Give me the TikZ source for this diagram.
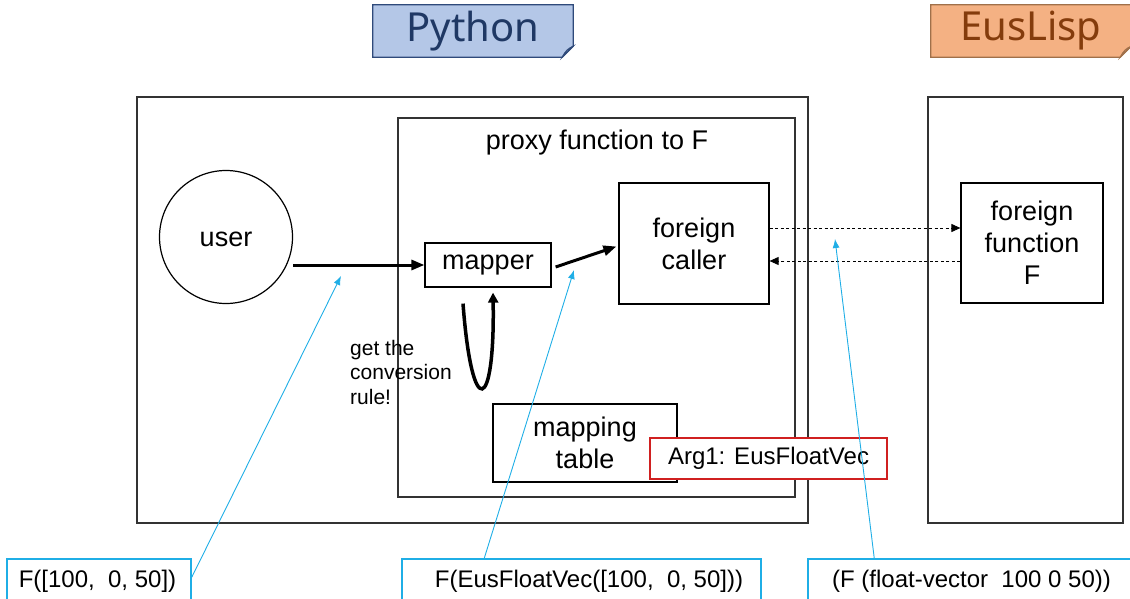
\documentclass[tikz,border=0pt]{standalone}
\usepackage{fontspec}
\setmainfont{Liberation Sans}
\newfontfamily\tagfont{Noto Sans}
\usetikzlibrary{arrows.meta,calc}

\definecolor{pyfill}{HTML}{B4C7E7}
\definecolor{pyline}{HTML}{2F4A7A}
\definecolor{pytext}{HTML}{1F3864}
\definecolor{elfill}{HTML}{F4B183}
\definecolor{elline}{HTML}{A0704A}
\definecolor{eltext}{HTML}{843C0C}
\definecolor{note}{HTML}{1FAEE6}
\definecolor{argred}{HTML}{D02020}

\tikzset{
  frame/.style={draw=black!80, line width=1.3pt, inner sep=0pt},
  blk/.style={draw=black, line width=1.2pt, inner sep=0pt, align=center,
    font=\fontsize{27}{32}\selectfont},
  tagbox/.style={inner sep=0pt, font=\tagfont\fontsize{40}{44}\selectfont},
  notebox/.style={draw=note, line width=1.5pt, inner sep=0pt,
    font=\fontsize{24}{28}\selectfont},
  flow/.style={line width=3pt, -{Triangle[length=13pt,width=10pt]}},
  call/.style={line width=0.9pt, dash pattern=on 3pt off 2.5pt,
    -{Triangle[length=9pt,width=8pt]}},
  pointer/.style={draw=note, line width=0.9pt, -{Latex[length=9pt,width=7pt]}},
}

\begin{document}
\begin{tikzpicture}[x=1pt,y=-1pt]
\useasboundingbox (0,0) rectangle (1130,599);
\clip (0,0) rectangle (1130,599);

% language tags with a folded corner
\node[tagbox, minimum width=200pt, minimum height=52pt] (pytag) at (473,31) {};
\fill[pyfill, draw=pyline, line width=1.3pt]
  (pytag.north west) -- (pytag.north east) -- ($(pytag.south east)+(0,-11)$)
  -- ($(pytag.south east)+(-11,0)$) -- (pytag.south west) -- cycle;
\filldraw[pyfill!70!pyline, draw=pyline, line width=1pt]
  ($(pytag.south east)+(0,-11)$) -- ($(pytag.south east)+(-11,0)$)
  .. controls ($(pytag.south east)+(-8,-6)$) and ($(pytag.south east)+(-5,-9)$) .. cycle;
\node[tagbox, text=pytext] at (pytag) {Python};

\node[tagbox, minimum width=200pt, minimum height=52pt] (eltag) at (1031,31) {};
\fill[elfill, draw=elline, line width=1.3pt]
  (eltag.north west) -- (eltag.north east) -- ($(eltag.south east)+(0,-11)$)
  -- ($(eltag.south east)+(-11,0)$) -- (eltag.south west) -- cycle;
\filldraw[elfill!70!elline, draw=elline, line width=1pt]
  ($(eltag.south east)+(0,-11)$) -- ($(eltag.south east)+(-11,0)$)
  .. controls ($(eltag.south east)+(-8,-6)$) and ($(eltag.south east)+(-5,-9)$) .. cycle;
\node[tagbox, text=eltext] at (eltag) {EusLisp};

% process frames
\node[frame, minimum width=671pt, minimum height=426pt] (pyframe) at (472.5,310) {};
\node[frame, minimum width=397pt, minimum height=379pt] (proxy) at (596.5,307.5) {};
\node[frame, minimum width=195pt, minimum height=426pt] (elframe) at (1025.5,310) {};
\node[font=\fontsize{27}{32}\selectfont] (proxytitle) at (597,143) {proxy function to F};

% components
\node[blk, circle, minimum size=133pt] (user) at (226,237) {};
\node[font=\fontsize{27}{32}\selectfont] at ($(user)+(0,2)$) {user};
\node[blk, minimum width=126pt, minimum height=44pt] (mapper) at (488,265) {mapper};
\node[blk, minimum width=150pt, minimum height=121pt] (caller) at (694,243.5) {foreign\\caller};
\node[blk, minimum width=142pt, minimum height=120pt] (ffunc) at (1032,243) {foreign\\function\\F};
\node[blk, minimum width=184pt, minimum height=78pt] (table) at (585,443) {mapping\\table};
\node[draw=argred, line width=1.3pt, fill=white, minimum width=237pt, minimum height=41pt,
  inner sep=0pt, font=\fontsize{24}{28}\selectfont] (arg) at (768.5,458.5) {Arg1: EusFloatVec};

\node[anchor=north west, align=left, inner sep=0pt,
  font=\fontsize{21}{24.5}\selectfont] (rule) at (350,340) {get the\\conversion\\rule!};

% data flow
\draw[flow] (user.east |- mapper.west) -- (mapper.west);
\draw[flow] ($(mapper.east)+(4,2)$) -- ($(caller.west)+(-2,3)$);
\draw[line width=3.5pt, -{Triangle[length=10pt,width=10pt]}]
  ($(mapper.south)+(-25,16)$) .. controls ($(mapper.south)+(-16,135)$)
  and ($(mapper.south)+(7,125)$) .. ($(mapper.south)+(5,5)$);

% foreign call and return
\draw[call] (caller.east |- 0,228) -- (ffunc.west |- 0,228);
\draw[call] (ffunc.west |- 0,261) -- (caller.east |- 0,261);

% example expressions
\node[notebox, minimum width=184pt, minimum height=46pt] (ex1) at (99,582) {};
\node[font=\fontsize{24}{28}\selectfont] at (97.5,581) {F([100,\ \ 0, 50])};
\node[notebox, minimum width=359pt, minimum height=46pt] (ex2) at (581.5,582) {};
\node[font=\fontsize{24}{28}\selectfont] at (589,581) {F(EusFloatVec([100,\ \ 0, 50]))};
\node[notebox, minimum width=330pt, minimum height=46pt] (ex3) at (973,582) {};
\node[font=\fontsize{24}{28}\selectfont] at (971.5,581) {(F (float-vector\ \ 100 0 50))};

\coordinate (p1) at (341,276);
\coordinate (p2) at (574,270);
\coordinate (p3) at (835,239);
\draw[pointer] ($(ex1.north east)+(0,19)$) -- (p1);
\draw[pointer] ($(ex2.north west)+(83,0)$) -- (p2);
\draw[pointer] ($(ex3.north west)+(67,0)$) -- (p3);
\end{tikzpicture}
\end{document}
